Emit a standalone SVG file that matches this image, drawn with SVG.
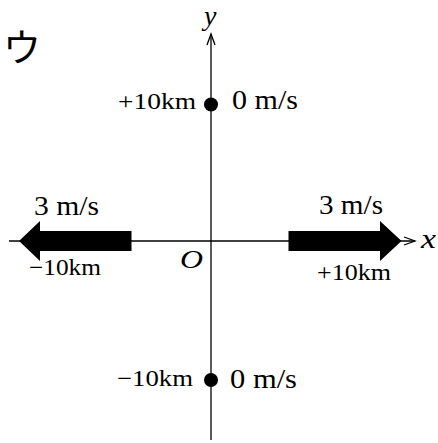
<svg xmlns="http://www.w3.org/2000/svg" width="438" height="443" viewBox="0 0 438 443">
<style>
.ax{stroke:#000;stroke-width:1.3;fill:none}
text{font-family:"Liberation Serif","Times New Roman",serif;fill:#000}
.km{font-size:23px}
.ms{font-size:28px}
.it{font-style:italic}
.big{fill:#000;stroke:none}
</style>
<defs>
<marker id="chev" markerUnits="userSpaceOnUse" markerWidth="14" markerHeight="10" refX="12" refY="5" orient="auto" viewBox="0 0 14 10">
<path d="M1,1 L12,5 L1,9" fill="none" stroke="#000" stroke-width="1.3"/>
</marker>
</defs>
<g id="label-u">
<text x="3" y="61" style="font-family:'Noto Sans CJK JP','Noto Sans CJK SC',sans-serif;font-size:38px">ウ</text>
</g>
<g id="connectors">
<line class="ax" x1="211" y1="440" x2="211" y2="34" marker-end="url(#chev)"/>
<line class="ax" x1="9" y1="241" x2="415" y2="241" marker-end="url(#chev)"/>
</g>
<g id="axis-labels">
<text class="it" x="204" y="25" font-size="28">y</text>
<text class="it" x="421" y="248" font-size="28" textLength="15" lengthAdjust="spacingAndGlyphs">x</text>
<text class="it" x="180" y="268" font-size="25" textLength="23" lengthAdjust="spacingAndGlyphs">O</text>
</g>
<g id="obj-top">
<circle cx="211" cy="104.5" r="7" class="big"/>
<text class="km" x="118" y="109" textLength="78" lengthAdjust="spacingAndGlyphs">+10km</text>
<text class="ms" x="232" y="109" textLength="66" lengthAdjust="spacingAndGlyphs">0 m/s</text>
</g>
<g id="obj-bottom">
<circle cx="211" cy="380" r="7" class="big"/>
<text class="km" x="117" y="386" textLength="76" lengthAdjust="spacingAndGlyphs">−10km</text>
<text class="ms" x="230" y="388" textLength="67" lengthAdjust="spacingAndGlyphs">0 m/s</text>
</g>
<g id="obj-left">
<polygon class="big" points="19,241 40,221 40,231 131.5,231 131.5,251 40,251 40,261"/>
<text class="ms" x="34" y="215" textLength="65" lengthAdjust="spacingAndGlyphs">3 m/s</text>
<text class="km" x="29" y="275" textLength="72" lengthAdjust="spacingAndGlyphs">−10km</text>
</g>
<g id="obj-right">
<polygon class="big" points="288.5,231 380,231 380,221 401.5,241 380,261 380,251 288.5,251"/>
<text class="ms" x="319" y="214" textLength="64" lengthAdjust="spacingAndGlyphs">3 m/s</text>
<text class="km" x="317" y="280" textLength="74" lengthAdjust="spacingAndGlyphs">+10km</text>
</g>
</svg>
